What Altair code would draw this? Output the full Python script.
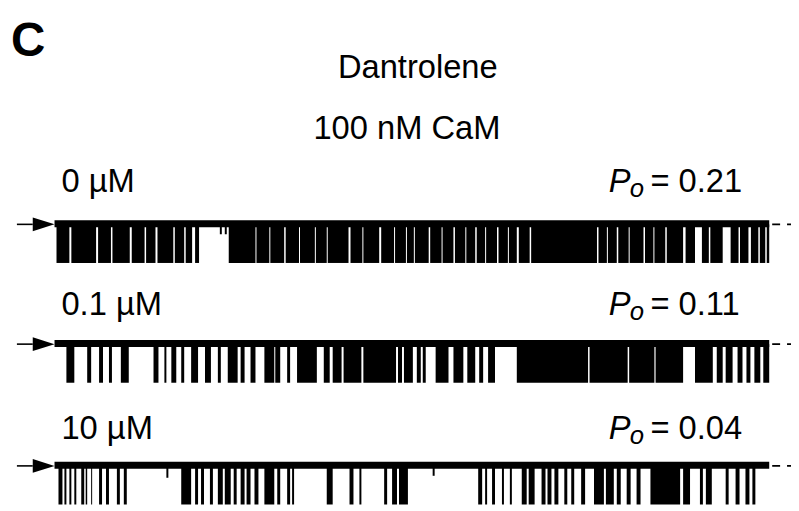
import altair as alt
import pandas as pd

# ---------------- text content ----------------
panel_letter = "C"
drug_name = "Dantrolene"
cam_label = "100 nM CaM"
conc_labels = ["0 µM", "0.1 µM", "10 µM"]
po_labels = ["0.21", "0.11", "0.04"]

# ---------------- recording data ----------------
record_ms = 7200      # length of each sweep shown (ms)
unitary_pA = 3.9      # single-channel current amplitude (pA)

# full-amplitude open intervals (start, end) in ms from the sweep start
open_0uM = [(0, 130), (150, 400), (420, 550), (565, 740), (760, 890), (905, 1000),
            (1020, 1180), (1195, 1290), (1305, 1370), (1400, 1440),
            (1740, 2010), (2020, 2150), (2160, 2300), (2315, 2450), (2460, 2610),
            (2620, 2730), (2740, 2950), (2970, 3090), (3100, 3260), (3280, 3410),
            (3420, 3530), (3540, 3610), (3620, 3760), (3775, 3890), (3900, 4010),
            (4025, 4130), (4140, 4230), (4245, 4330), (4340, 4450), (4465, 4560),
            (4570, 4650), (4670, 4780), (4795, 5460), (5475, 5560), (5570, 5660),
            (5675, 5780), (5790, 5930), (5945, 6030), (6040, 6150), (6165, 6330),
            (6355, 6450), (6520, 6590), (6605, 6730), (6810, 6890), (6905, 6990),
            (7015, 7090), (7105, 7160), (7175, 7200)]

open_01uM = [(100, 180), (310, 350), (430, 470), (530, 560), (650, 730), (980, 1030),
             (1090, 1110), (1160, 1210), (1260, 1290), (1360, 1430), (1500, 1560),
             (1630, 1660), (1730, 1830), (1860, 1900), (1960, 2010), (2100, 2200),
             (2210, 2260), (2330, 2360), (2430, 2630), (2700, 2760), (2790, 2880),
             (2900, 3080), (3100, 3430), (3450, 3490), (3510, 3600), (3640, 3680),
             (3700, 3730), (3830, 3960), (4010, 4110), (4150, 4230), (4270, 4310),
             (4360, 4430), (4650, 5370), (5385, 5770), (5785, 6040), (6052, 6330),
             (6450, 6630), (6670, 6730), (6760, 6830), (6880, 6930), (6970, 7010),
             (7050, 7110), (7140, 7200)]

open_10uM = [(20, 60), (80, 100), (130, 150), (180, 200), (250, 280), (295, 310),
             (350, 360), (430, 460), (500, 530), (610, 640), (680, 710), (1260, 1360),
             (1400, 1430), (1460, 1490), (1550, 1580), (1630, 1680), (1700, 1760),
             (1790, 1820), (1860, 1900), (1920, 1960), (2000, 2040), (2100, 2200),
             (2230, 2260), (2330, 2360), (2380, 2400), (2730, 2790), (2960, 3000),
             (3060, 3080), (3310, 3340), (3390, 3440), (3460, 3550), (4260, 4300),
             (4330, 4350), (4400, 4430), (4500, 4520), (4580, 4600), (4700, 4750),
             (4770, 4830), (4900, 4940), (4960, 5000), (5030, 5070), (5130, 5160),
             (5200, 5230), (5300, 5340), (5430, 5530), (5550, 5630), (5660, 5700),
             (5760, 5800), (5860, 5900), (6000, 6300), (6330, 6400), (6500, 6530),
             (6560, 6620), (6760, 6790), (6860, 6900), (6960, 7000), (7030, 7060)]

# brief openings that do not reach the full level: (start, end, depth pA)
brief_0uM = [(1650, 1670, 1.0), (1700, 1720, 1.0)]
brief_01uM = []
brief_10uM = [(1110, 1130, 1.2), (3800, 3820, 1.0)]

traces = [open_0uM, open_01uM, open_10uM]
briefs = [brief_0uM, brief_01uM, brief_10uM]

# ---------------- layout ----------------
W, H = 791, 503
X_DOMAIN = [-490, 7420]          # ms
Y_DOMAIN = [-50.3, 0]            # display pA (traces stacked)
levels = [-21.6, -33.7, -46.0]   # closed level of each stacked trace
FONT = "Liberation Sans"

xs = alt.Scale(domain=X_DOMAIN, nice=False, zero=False)
ys = alt.Scale(domain=Y_DOMAIN, nice=False, zero=False)

rows = []
for k, ev in enumerate(traces):
    for s, e in ev:
        rows.append({"trace": k, "start": s, "end": e,
                     "closed": levels[k], "open": levels[k] - unitary_pA})
for k, ev in enumerate(briefs):
    for s, e, d in ev:
        rows.append({"trace": k, "start": s, "end": e,
                     "closed": levels[k], "open": levels[k] - d})
events = pd.DataFrame(rows)

base = pd.DataFrame({
    "trace": [0, 1, 2],
    "start": [-20] * 3,
    "end": [record_ms] * 3,
    "top": [l + 0.42 for l in levels],
    "bottom": [l - 0.28 for l in levels],
    "level": levels,
    "a0": [-400] * 3,
    "a1": [-240] * 3,
    "tri": [-130] * 3,
    "d0": [record_ms + 30] * 3,
    "d1": [record_ms + 230] * 3,
})

bars = alt.Chart(events).mark_rect(color="black", strokeWidth=0).encode(
    x=alt.X("start:Q", scale=xs, axis=None), x2="end:Q",
    y=alt.Y("closed:Q", scale=ys, axis=None), y2="open:Q")

band = alt.Chart(base).mark_rect(color="black", strokeWidth=0).encode(
    x=alt.X("start:Q", scale=xs, axis=None), x2="end:Q",
    y=alt.Y("top:Q", scale=ys, axis=None), y2="bottom:Q")

arrow_line = alt.Chart(base).mark_rule(color="black", strokeWidth=1.6).encode(
    x=alt.X("a0:Q", scale=xs, axis=None), x2="a1:Q",
    y=alt.Y("level:Q", scale=ys, axis=None))

arrow_head = alt.Chart(base).mark_point(
    shape="M-1,-0.64L1,0L-1,0.64Z", filled=True, color="black", opacity=1,
    size=484, strokeWidth=0).encode(
    x=alt.X("tri:Q", scale=xs, axis=None),
    y=alt.Y("level:Q", scale=ys, axis=None))

dashes = alt.Chart(base).mark_rule(color="black", strokeWidth=1.6,
                                   strokeDash=[8, 7]).encode(
    x=alt.X("d0:Q", scale=xs, axis=None), x2="d1:Q",
    y=alt.Y("level:Q", scale=ys, axis=None))


def label(text, x, y, size=33, align="left", style="normal", weight="normal"):
    return alt.Chart(pd.DataFrame({"t": [text]})).mark_text(
        align=align, baseline="alphabetic", fontSize=size, font=FONT,
        fontStyle=style, fontWeight=weight, color="black").encode(
        x=alt.value(x), y=alt.value(y), text="t:N")


texts = [
    label(panel_letter, 3, 46, size=48, weight="bold"),
    label(drug_name, 414, 68, align="center"),
    label(cam_label, 403, 130, align="center"),
]
row_y = [183, 308, 433]
for k in range(3):
    texts.append(label(conc_labels[k], 54, row_y[k]))
    texts.append(label("P", 607, row_y[k], style="italic"))
    texts.append(label("o", 628, row_y[k] + 5, size=26, style="italic"))
    texts.append(label("= " + po_labels[k], 649, row_y[k]))

chart = alt.layer(band, bars, arrow_line, arrow_head, dashes, *texts).properties(
    width=W, height=H, padding=0, autosize=alt.AutoSizeParams(type="none"),
    background="white"
).configure_view(stroke=None)

chart.save("out.html", embed_options={"renderer": "svg", "actions": False})
